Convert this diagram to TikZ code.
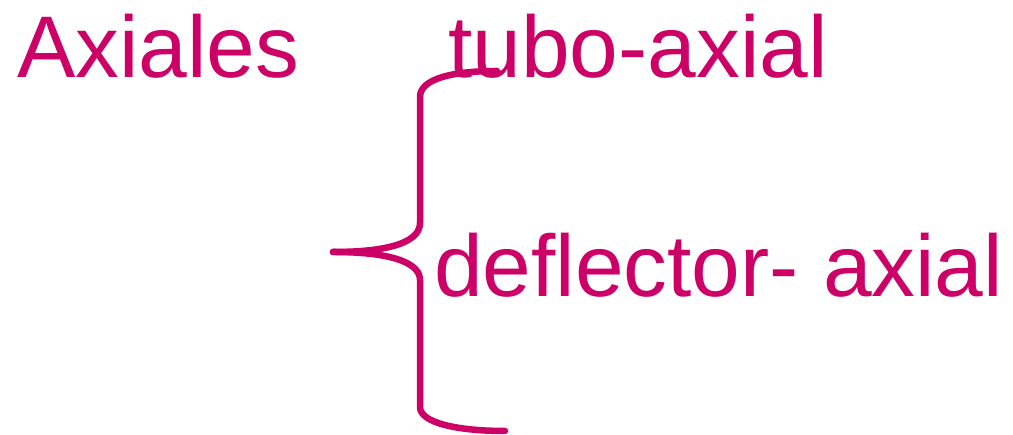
\documentclass[tikz,border=0pt]{standalone}
\usepackage{fontspec}
\setmainfont{Liberation Sans}
\usepackage{tikz}
\definecolor{fucsia}{RGB}{204,0,102}

\begin{document}
\begin{tikzpicture}[x=1pt,y=1pt,
    lbl/.style={anchor=base west,inner sep=0pt,text=fucsia,font=\fontsize{87.5}{100}\selectfont},
    bracearc/.style={draw=fucsia,line width=6.5pt,line cap=round,line join=round}]

    \useasboundingbox (0,0) rectangle (1013,435);

    % labels
    \node[lbl] (axiales) at (17,357) {Axiales};
    \node[lbl] (tubo) at (448,357) {tubo-axial};
    \node[lbl] (deflector) at (434,138) {deflector- axial};

    % brace
    \coordinate (tip) at (333,183);
    \coordinate (top) at (497,364);
    \coordinate (bot) at (505,4);
    \draw[bracearc] (tip) .. controls (398,183) and (420,196) .. (420,212)
        -- (420,338) .. controls (420,356) and (452,364) .. (top);
    \draw[bracearc] (tip) .. controls (398,183) and (420,170) .. (420,155)
        -- (420,28) .. controls (420,12) and (458,4) .. (bot);

\end{tikzpicture}
\end{document}
